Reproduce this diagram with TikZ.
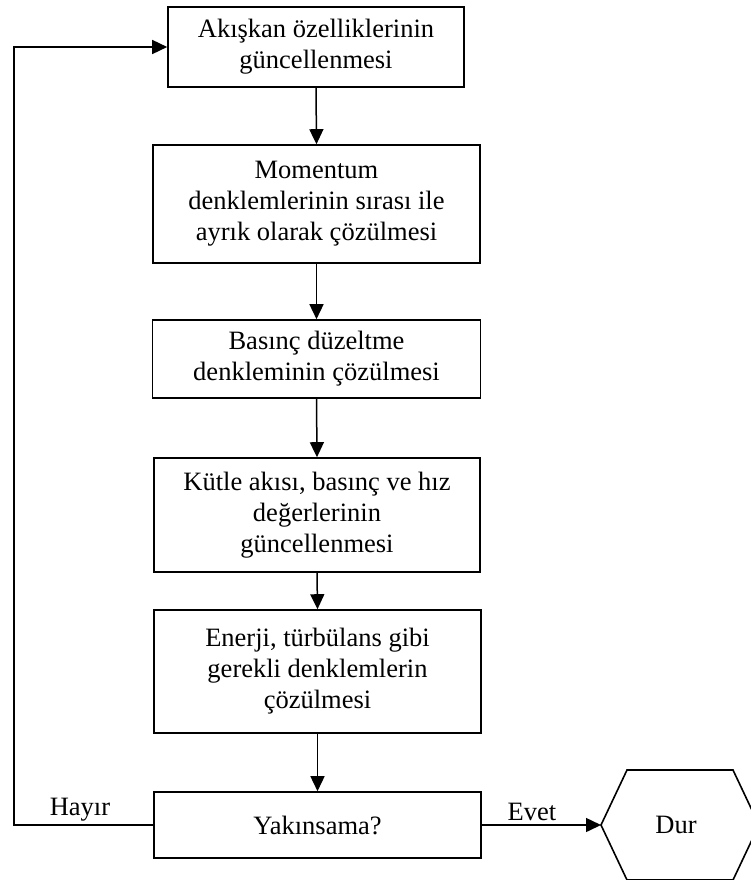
\documentclass[tikz,border=0pt]{standalone}
\usepackage{fontspec}
\setmainfont{Liberation Serif}
\usetikzlibrary{arrows.meta}
\begin{document}
\begin{tikzpicture}[x=1pt,y=-1pt,
  box/.style={draw,line width=1.6pt,align=center,inner sep=0pt,
    font=\fontsize{26.5}{31}\selectfont},
  arr/.style={line width=1.5pt,-{Triangle[length=15pt,width=14pt]}},
  lbl/.style={font=\fontsize{26.5}{31}\selectfont,inner sep=0pt}]
\useasboundingbox (0,0) rectangle (751,880);
\node[box,minimum width=296pt,minimum height=80pt] (b1) at (316,47)
  {Akışkan özelliklerinin\\güncellenmesi};
\node[box,minimum width=327pt,minimum height=118pt] (b2) at (316.5,204)
  {Momentum\\denklemlerinin sırası ile\\ayrık olarak çözülmesi};
\node[box,minimum width=328pt,minimum height=78pt] (b3) at (316.5,359)
  {Basınç düzeltme\\denkleminin çözülmesi};
\node[box,minimum width=326pt,minimum height=114pt] (b4) at (317,515)
  {Kütle akısı, basınç ve hız\\değerlerinin\\güncellenmesi};
\node[box,minimum width=327pt,minimum height=123pt] (b5) at (317.5,671.5)
  {Enerji, türbülans gibi\\gerekli denklemlerin\\çözülmesi};
\node[box,minimum width=327pt,minimum height=66pt] (b6) at (317.5,825)
  {Yakınsama?};
\coordinate (hw) at (601,825);
\coordinate (htl) at (627,770);
\coordinate (htr) at (733,770);
\coordinate (he) at (759,825);
\coordinate (hbr) at (733,880);
\coordinate (hbl) at (627,880);
\draw[line width=1.6pt] (hw) -- (htl) -- (htr) -- (he) -- (hbr) -- (hbl) -- cycle;
\node[lbl] (dur) at (676,825) {Dur};
\draw[arr] (b1.south) -- (b2.north);
\draw[arr] (b2.south) -- (b3.north);
\draw[arr] (b3.south) -- (b4.north);
\draw[arr] (b4.south) -- (b5.north);
\draw[arr] (b5.south) -- (b6.north);
\draw[arr] (b6.east) -- (hw);
\coordinate (lc) at (14,825);
\draw[arr] (b6.west) -- (lc) |- (b1.west);
\node[lbl] (hayir) at (80,810) {Hayır};
\node[lbl] (evet) at (532,812) {Evet};
\end{tikzpicture}
\end{document}
